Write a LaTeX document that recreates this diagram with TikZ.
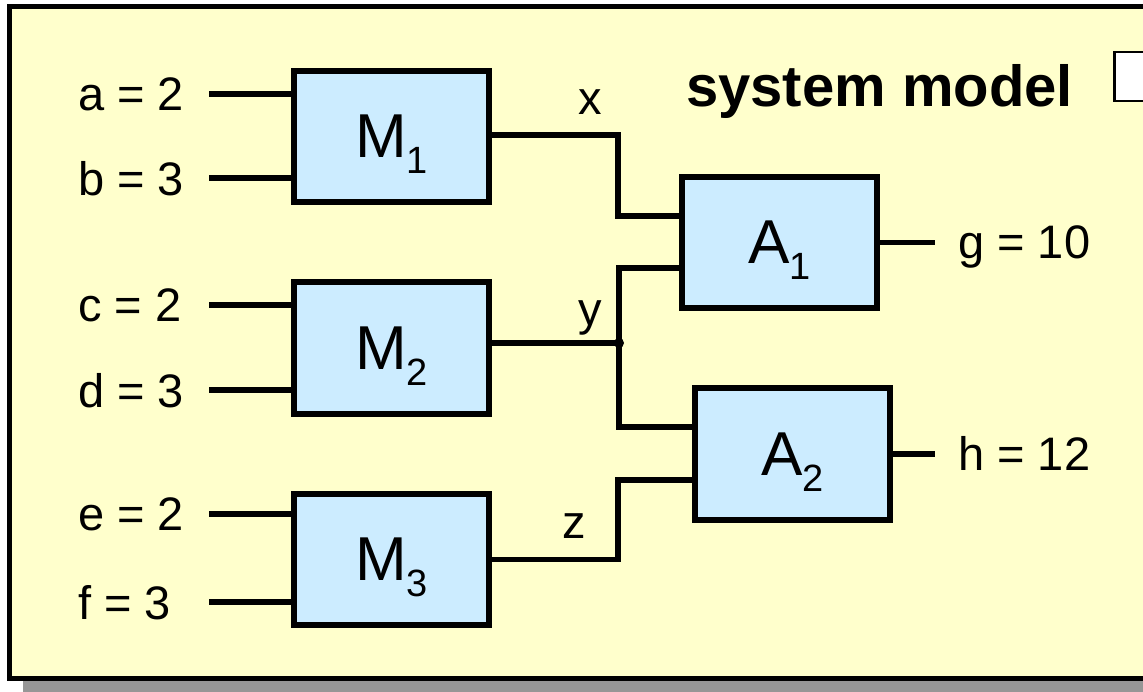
\documentclass[tikz,border=0pt]{standalone}
\usepackage{fontspec}
\setmainfont{Liberation Sans}
\definecolor{panel}{HTML}{FFFFCC}
\definecolor{boxfill}{HTML}{CCECFF}
\definecolor{shadowgrey}{HTML}{969696}
\newcommand\mysub[1]{\raisebox{-16pt}{\fontsize{38}{38}\selectfont #1}}
\begin{document}
\begin{tikzpicture}[x=1pt,y=-1pt,
  blk/.style={draw,line width=5.5pt,fill=boxfill,minimum width=195pt,minimum height=131pt,inner sep=0pt,text depth=0pt,font=\fontsize{62}{62}\selectfont},
  lbl/.style={anchor=west,inner sep=0pt,text depth=0pt,font=\fontsize{47}{47}\selectfont},
  sig/.style={anchor=base,inner sep=0pt,font=\fontsize{47}{47}\selectfont},
  wire/.style={line width=5.5pt,line join=miter}]
\useasboundingbox (0,0) rectangle (1143,692);
\clip (0,0) rectangle (1143,692);
\fill[white] (0,0) rectangle (1143,692);
% panel with shadow
\fill[shadowgrey] (23,20) rectangle (1180,700);
\draw[line width=5.5pt,fill=panel] (9.5,6.5) rectangle (1170,678.5);
\node[anchor=base west,inner sep=0pt,font=\fontsize{58}{58}\selectfont\bfseries] (title) at (686,107) {system model};
\draw[line width=2.5pt,fill=white] (1114.5,52) rectangle (1170,101);
% blocks
\node[blk] (M1) at (391.5,136.5) {M\mysub{1}};
\node[blk,minimum height=132pt] (M2) at (391.5,348) {M\mysub{2}};
\node[blk] (M3) at (391.5,559.5) {M\mysub{3}};
\node[blk] (A1) at (779.5,242.5) {A\mysub{1}};
\node[blk,minimum height=132pt] (A2) at (792.5,454) {A\mysub{2}};
% input labels
\node[lbl] (a) at (78,94) {a = 2};
\node[lbl] (b) at (78,178) {b = 3};
\node[lbl] (c) at (78,305) {c = 2};
\node[lbl] (d) at (78,390) {d = 3};
\node[lbl] (e) at (78,514) {e = 2};
\node[lbl] (f) at (78,602) {f = 3};
\coordinate (a0) at (209,94);
\coordinate (b0) at (209,178);
\coordinate (c0) at (209,305);
\coordinate (d0) at (209,390);
\coordinate (e0) at (209,514);
\coordinate (f0) at (209,602);
\draw[wire] (a0) -- (a0 -| M1.west);
\draw[wire] (b0) -- (b0 -| M1.west);
\draw[wire] (c0) -- (c0 -| M2.west);
\draw[wire] (d0) -- (d0 -| M2.west);
\draw[wire] (e0) -- (e0 -| M3.west);
\draw[wire] (f0) -- (f0 -| M3.west);
% outputs
\node[lbl] (g) at (958,242) {g = 10};
\node[lbl] (h) at (958,453) {h = 12};
\coordinate (g0) at (935,242.5);
\coordinate (h0) at (935,454);
\draw[wire] (A1.east) -- (g0);
\draw[wire] (A2.east) -- (h0);
% internal signals
\coordinate (A1i1) at ([shift={(0,-26.5)}]A1.west);
\coordinate (A1i2) at ([shift={(0,25.5)}]A1.west);
\coordinate (A2i1) at ([shift={(0,-27)}]A2.west);
\coordinate (A2i2) at ([shift={(0,26)}]A2.west);
\coordinate (J) at (619,343);
\draw[wire] ([shift={(0,-1.5)}]M1.east) -| (618,216) -- (A1i1);
\draw[wire] (J -| M2.east) -- (J);
\draw[wire] (A1i2) -| (J) |- (A2i1);
\draw[wire] (M3.east) -| (618,480) -- (A2i2);
\fill (J) circle (5pt);
\node[sig] (x) at (590,115) {x};
\node[sig] (y) at (590,326) {y};
\node[sig] (z) at (574,538) {z};
\end{tikzpicture}
\end{document}
